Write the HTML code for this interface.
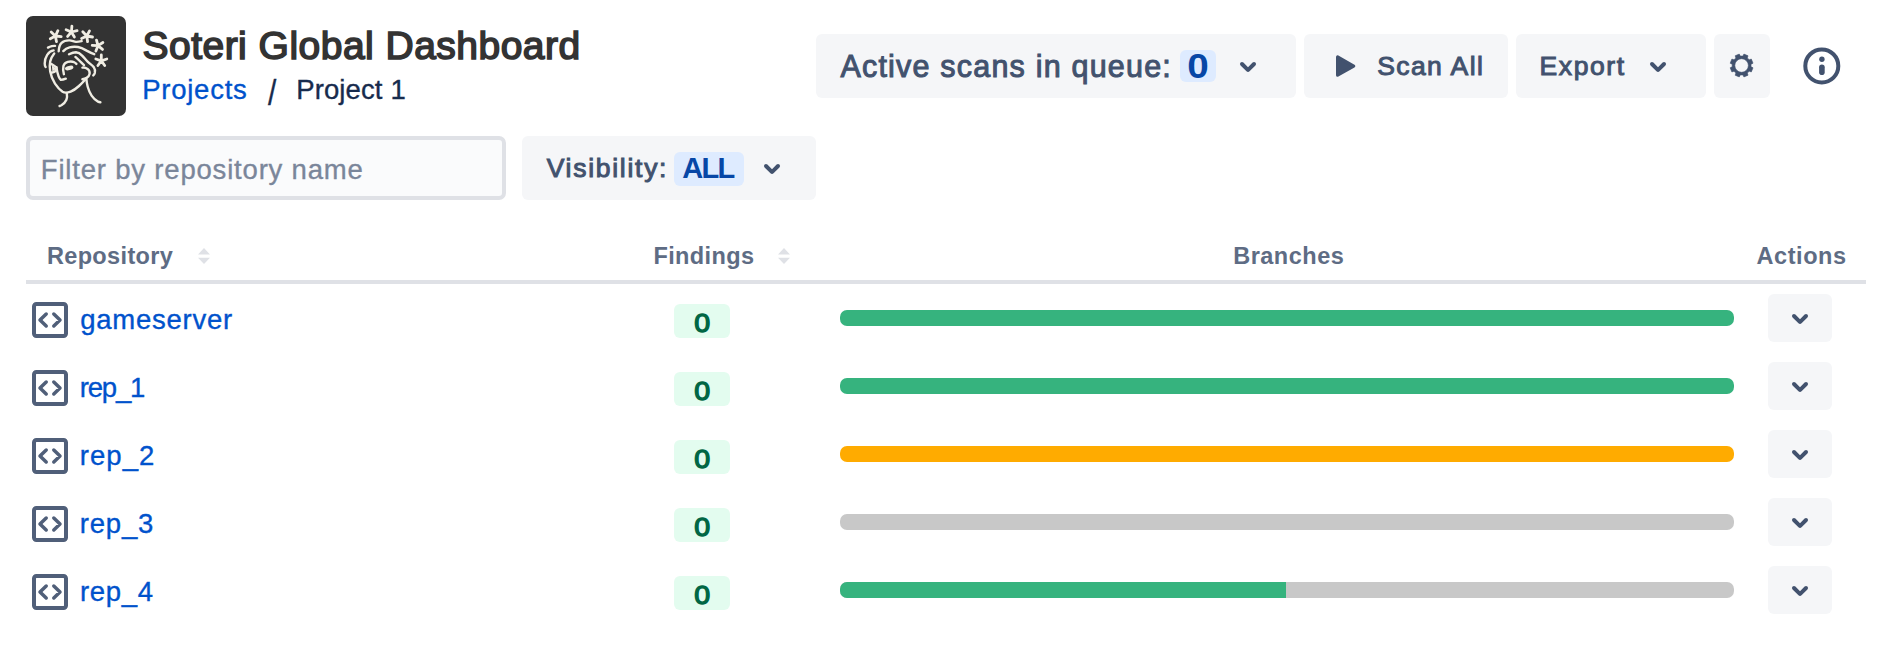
<!DOCTYPE html>
<html lang="en">
<head>
<meta charset="utf-8">
<title>Soteri Global Dashboard</title>
<style>
  html, body { margin: 0; padding: 0; background: #ffffff; }
  body { width: 1900px; height: 662px; position: relative; overflow: hidden;
         font-family: "Liberation Sans", sans-serif; color: #172B4D; }
  .t { position: absolute; white-space: nowrap; line-height: 1; margin: 0; padding: 0; }
  .abs { position: absolute; }
  .btn { position: absolute; background: #F5F6F8; border-radius: 6px; }
  .reg { -webkit-text-stroke: 0.35px currentColor; }
  .med { -webkit-text-stroke: 1px currentColor; }
  .hdr { font-size: 24px; font-weight: bold; color: #5E6C84; }
  .repo { font-size: 28px; color: #0052CC; }
  .lozenge { position: absolute; background: #E3FCEF; border-radius: 6px; width: 56px; height: 34px; left: 674px; }
  .loz-t { font-size: 24px; font-weight: normal; -webkit-text-stroke: 1.3px #006644; color: #006644; }
  .bar { position: absolute; left: 840px; width: 894px; height: 16px; border-radius: 7px; overflow: hidden; background: #C8C8C8; }
  .bar i { display: block; height: 100%; }
  .g { background: #36B37E; }
  .y { background: #FFAB00; }
  .act { position: absolute; left: 1768px; width: 64px; height: 48px; background: #F5F6F8; border-radius: 6px; }
  svg { position: absolute; overflow: visible; }
</style>
</head>
<body>

<!-- logo -->
<div class="abs" id="logo" style="left:26px; top:16px; width:100px; height:100px; background:#333333; border-radius:7px;"></div>

<!-- title + breadcrumbs -->
<h1 class="t" id="title" style="left:142.5px; top:26.3px; font-size:39px; letter-spacing:0.48px; font-weight:normal; -webkit-text-stroke:1.6px #333333; color:#333333;">Soteri Global Dashboard</h1>
<a class="t reg" id="bc1" style="left:142.20px; top:76.0px; font-size:27.5px; letter-spacing:0.75px; color:#0052CC;">Projects</a>
<span class="t reg" id="bc2" style="left:267.8px; top:76px; font-size:35.5px; transform:scaleX(0.84); transform-origin:0 50%; color:#172B4D;">/</span>
<span class="t reg" id="bc3" style="left:296.20px; top:76.0px; font-size:27.5px; letter-spacing:0.12px; color:#172B4D;">Project 1</span>

<!-- header buttons -->
<div class="btn" id="b-scans" style="left:816px; top:34px; width:480px; height:64px;"></div>
<span class="t med" id="t-scans" style="left:840.4px; top:51.4px; font-size:30.5px; letter-spacing:1.2px; color:#42526E;">Active scans in queue:</span>
<div class="abs" id="bd-scans" style="left:1180px; top:50px; width:36px; height:32px; background:#DEEBFF; border-radius:6px;"></div>
<span class="t" id="t-scans0" style="left:1188.0px; top:49.3px; font-size:35.8px; transform:scaleX(1.08); font-weight:bold; color:#0747A6;">0</span>

<div class="btn" id="b-scan" style="left:1304px; top:34px; width:204px; height:64px;"></div>
<span class="t med" id="t-scan" style="left:1377.2px; top:53.1px; font-size:26.5px; letter-spacing:1.42px; color:#42526E;">Scan All</span>

<div class="btn" id="b-export" style="left:1516px; top:34px; width:190px; height:64px;"></div>
<span class="t med" id="t-export" style="left:1539.5px; top:53.1px; font-size:26.5px; letter-spacing:1.6px; color:#42526E;">Export</span>

<div class="btn" id="b-gear" style="left:1714px; top:34px; width:56px; height:64px;"></div>

<!-- filter row -->
<div class="abs" id="filter" style="left:26px; top:136px; width:472px; height:56px; border:4px solid #DFE1E6; border-radius:7px; background:#FAFBFC;"></div>
<span class="t reg" id="t-filter" style="left:40.8px; top:156.2px; font-size:27.5px; letter-spacing:0.81px; color:#7A869A;">Filter by repository name</span>

<div class="btn" id="b-vis" style="left:522px; top:136px; width:294px; height:64px;"></div>
<span class="t med" id="t-vis" style="left:546.7px; top:155.0px; font-size:26.5px; letter-spacing:1.72px; color:#42526E;">Visibility:</span>
<div class="abs" id="bd-vis" style="left:674px; top:152px; width:70px; height:34px; background:#DEEBFF; border-radius:6px;"></div>
<span class="t" id="t-all" style="left:682.2px; top:154.0px; font-size:29px; letter-spacing:-1.65px; font-weight:bold; color:#0747A6;">ALL</span>

<!-- table header -->
<span class="t hdr" id="h-repo" style="left:46.9px; top:244.6px; font-size:23.5px; letter-spacing:0.36px;">Repository</span>
<span class="t hdr" id="h-find" style="left:653.4px; top:244.6px; font-size:23.5px; letter-spacing:0.41px;">Findings</span>
<span class="t hdr" id="h-br" style="left:1233.2px; top:244.6px; font-size:23.5px; letter-spacing:0.5px;">Branches</span>
<span class="t hdr" id="h-act" style="left:1756.6px; top:244.6px; font-size:23.5px; letter-spacing:0.55px;">Actions</span>
<div class="abs" id="hline" style="left:26px; top:280px; width:1840px; height:4px; background:#DFE1E6;"></div>

<!-- rows -->
<a class="t repo reg" id="r1" style="left:80.3px; top:306.2px; font-size:27.5px; letter-spacing:0.73px;">gameserver</a>
<a class="t repo reg" id="r2" style="left:79.80px; top:374.2px; font-size:27.5px; letter-spacing:-1.22px;">rep_1</a>
<a class="t repo reg" id="r3" style="left:79.80px; top:442.2px; font-size:27.5px; letter-spacing:1.03px;">rep_2</a>
<a class="t repo reg" id="r4" style="left:79.80px; top:510.2px; font-size:27.5px; letter-spacing:0.80px;">rep_3</a>
<a class="t repo reg" id="r5" style="left:80.00px; top:578.2px; font-size:27.5px; letter-spacing:0.70px;">rep_4</a>

<div class="lozenge" style="top:304px;"></div>
<div class="lozenge" style="top:372px;"></div>
<div class="lozenge" style="top:440px;"></div>
<div class="lozenge" style="top:508px;"></div>
<div class="lozenge" style="top:576px;"></div>
<span class="t loz-t" id="z1" style="left:694.9px; top:310.0px; font-size:26px; transform:scaleX(1.1);">0</span>
<span class="t loz-t" id="z2" style="left:694.9px; top:378.0px; font-size:26px; transform:scaleX(1.1);">0</span>
<span class="t loz-t" id="z3" style="left:694.9px; top:446.0px; font-size:26px; transform:scaleX(1.1);">0</span>
<span class="t loz-t" id="z4" style="left:694.9px; top:514.0px; font-size:26px; transform:scaleX(1.1);">0</span>
<span class="t loz-t" id="z5" style="left:694.9px; top:582.0px; font-size:26px; transform:scaleX(1.1);">0</span>

<div class="bar" style="top:310px;"><i class="g" style="width:100%"></i></div>
<div class="bar" style="top:378px;"><i class="g" style="width:100%"></i></div>
<div class="bar" style="top:446px;"><i class="y" style="width:100%"></i></div>
<div class="bar" style="top:514px;"></div>
<div class="bar" style="top:582px;"><i class="g" style="width:446px"></i></div>

<div class="act" style="top:294px;"></div>
<div class="act" style="top:362px;"></div>
<div class="act" style="top:430px;"></div>
<div class="act" style="top:498px;"></div>
<div class="act" style="top:566px;"></div>

<!-- chevrons -->
<svg style="left:1224px; top:42px;" width="48" height="48" viewBox="0 0 24 24"><path fill="#42526E" d="M8.292 10.293a1.009 1.009 0 000 1.419l2.939 2.965c.218.215.5.322.779.322s.556-.107.769-.322l2.93-2.955a1.01 1.01 0 000-1.419.987.987 0 00-1.406 0l-2.298 2.317-2.307-2.327a.99.99 0 00-1.406 0z"/></svg>
<svg style="left:1634px; top:42px;" width="48" height="48" viewBox="0 0 24 24"><path fill="#42526E" d="M8.292 10.293a1.009 1.009 0 000 1.419l2.939 2.965c.218.215.5.322.779.322s.556-.107.769-.322l2.93-2.955a1.01 1.01 0 000-1.419.987.987 0 00-1.406 0l-2.298 2.317-2.307-2.327a.99.99 0 00-1.406 0z"/></svg>
<svg style="left:748px; top:144px;" width="48" height="48" viewBox="0 0 24 24"><path fill="#42526E" d="M8.292 10.293a1.009 1.009 0 000 1.419l2.939 2.965c.218.215.5.322.779.322s.556-.107.769-.322l2.93-2.955a1.01 1.01 0 000-1.419.987.987 0 00-1.406 0l-2.298 2.317-2.307-2.327a.99.99 0 00-1.406 0z"/></svg>
<svg style="left:1776px; top:294px;" width="48" height="48" viewBox="0 0 24 24"><path fill="#42526E" d="M8.292 10.293a1.009 1.009 0 000 1.419l2.939 2.965c.218.215.5.322.779.322s.556-.107.769-.322l2.93-2.955a1.01 1.01 0 000-1.419.987.987 0 00-1.406 0l-2.298 2.317-2.307-2.327a.99.99 0 00-1.406 0z"/></svg>
<svg style="left:1776px; top:362px;" width="48" height="48" viewBox="0 0 24 24"><path fill="#42526E" d="M8.292 10.293a1.009 1.009 0 000 1.419l2.939 2.965c.218.215.5.322.779.322s.556-.107.769-.322l2.93-2.955a1.01 1.01 0 000-1.419.987.987 0 00-1.406 0l-2.298 2.317-2.307-2.327a.99.99 0 00-1.406 0z"/></svg>
<svg style="left:1776px; top:430px;" width="48" height="48" viewBox="0 0 24 24"><path fill="#42526E" d="M8.292 10.293a1.009 1.009 0 000 1.419l2.939 2.965c.218.215.5.322.779.322s.556-.107.769-.322l2.93-2.955a1.01 1.01 0 000-1.419.987.987 0 00-1.406 0l-2.298 2.317-2.307-2.327a.99.99 0 00-1.406 0z"/></svg>
<svg style="left:1776px; top:498px;" width="48" height="48" viewBox="0 0 24 24"><path fill="#42526E" d="M8.292 10.293a1.009 1.009 0 000 1.419l2.939 2.965c.218.215.5.322.779.322s.556-.107.769-.322l2.93-2.955a1.01 1.01 0 000-1.419.987.987 0 00-1.406 0l-2.298 2.317-2.307-2.327a.99.99 0 00-1.406 0z"/></svg>
<svg style="left:1776px; top:566px;" width="48" height="48" viewBox="0 0 24 24"><path fill="#42526E" d="M8.292 10.293a1.009 1.009 0 000 1.419l2.939 2.965c.218.215.5.322.779.322s.556-.107.769-.322l2.93-2.955a1.01 1.01 0 000-1.419.987.987 0 00-1.406 0l-2.298 2.317-2.307-2.327a.99.99 0 00-1.406 0z"/></svg>
<!-- play -->
<svg style="left:1328px; top:42px;" width="48" height="48" viewBox="0 0 48 48"><path d="M9.6 15 L9.6 33.2 L25.7 24.1 Z" fill="#42526E" stroke="#42526E" stroke-width="3.2" stroke-linejoin="round"/></svg>
<!-- gear -->
<svg style="left:1717px; top:41px;" width="48" height="48" viewBox="-24.6 -24.5 48 48"><path d="M1.32 -9.41 L2.32 -11.42 L6.43 -9.71 L5.72 -7.59 L7.59 -5.72 L9.71 -6.43 L11.42 -2.32 L9.41 -1.32 L9.41 1.32 L11.42 2.32 L9.71 6.43 L7.59 5.72 L5.72 7.59 L6.43 9.71 L2.32 11.42 L1.32 9.41 L-1.32 9.41 L-2.32 11.42 L-6.43 9.71 L-5.72 7.59 L-7.59 5.72 L-9.71 6.43 L-11.42 2.32 L-9.41 1.32 L-9.41 -1.32 L-11.42 -2.32 L-9.71 -6.43 L-7.59 -5.72 L-5.72 -7.59 L-6.43 -9.71 L-2.32 -11.42 L-1.32 -9.41 Z M6.8 0 A6.8 6.8 0 1 0 -6.8 0 A6.8 6.8 0 1 0 6.8 0 Z" fill="#42526E" fill-rule="evenodd" stroke="#42526E" stroke-width="0.6" stroke-linejoin="round"/></svg>
<!-- info -->
<svg style="left:1797px; top:41px;" width="48" height="48" viewBox="-24.8 -24.9 48 48"><circle r="16.5" fill="none" stroke="#42526E" stroke-width="4"/><circle cx="0.1" cy="-6.6" r="2.7" fill="#42526E"/><rect x="-2.7" y="-1.4" width="5.6" height="10.6" rx="2.8" fill="#42526E"/></svg>
<!-- sort -->
<svg style="left:198px; top:248px;" width="12" height="16" viewBox="0 0 12 16"><path fill="#DFE1E6" d="M6 0 L12 6.5 L0 6.5 Z M0 9.8 L12 9.8 L6 16 Z"/></svg>
<svg style="left:778.3px; top:248px;" width="12" height="16" viewBox="0 0 12 16"><path fill="#DFE1E6" d="M6 0 L12 6.5 L0 6.5 Z M0 9.8 L12 9.8 L6 16 Z"/></svg>
<!-- repo icons -->
<svg style="left:32px; top:302px;" width="36" height="36" viewBox="0 0 36 36"><rect x="2" y="2" width="32" height="32" rx="2.4" fill="none" stroke="#505F79" stroke-width="4"/><path d="M14.2 12 L8 18 L14.2 24 M21.8 12 L28 18 L21.8 24" fill="none" stroke="#505F79" stroke-width="3.5" stroke-linecap="round" stroke-linejoin="round"/></svg>
<svg style="left:32px; top:370px;" width="36" height="36" viewBox="0 0 36 36"><rect x="2" y="2" width="32" height="32" rx="2.4" fill="none" stroke="#505F79" stroke-width="4"/><path d="M14.2 12 L8 18 L14.2 24 M21.8 12 L28 18 L21.8 24" fill="none" stroke="#505F79" stroke-width="3.5" stroke-linecap="round" stroke-linejoin="round"/></svg>
<svg style="left:32px; top:438px;" width="36" height="36" viewBox="0 0 36 36"><rect x="2" y="2" width="32" height="32" rx="2.4" fill="none" stroke="#505F79" stroke-width="4"/><path d="M14.2 12 L8 18 L14.2 24 M21.8 12 L28 18 L21.8 24" fill="none" stroke="#505F79" stroke-width="3.5" stroke-linecap="round" stroke-linejoin="round"/></svg>
<svg style="left:32px; top:506px;" width="36" height="36" viewBox="0 0 36 36"><rect x="2" y="2" width="32" height="32" rx="2.4" fill="none" stroke="#505F79" stroke-width="4"/><path d="M14.2 12 L8 18 L14.2 24 M21.8 12 L28 18 L21.8 24" fill="none" stroke="#505F79" stroke-width="3.5" stroke-linecap="round" stroke-linejoin="round"/></svg>
<svg style="left:32px; top:574px;" width="36" height="36" viewBox="0 0 36 36"><rect x="2" y="2" width="32" height="32" rx="2.4" fill="none" stroke="#505F79" stroke-width="4"/><path d="M14.2 12 L8 18 L14.2 24 M21.8 12 L28 18 L21.8 24" fill="none" stroke="#505F79" stroke-width="3.5" stroke-linecap="round" stroke-linejoin="round"/></svg>
<!-- logo art -->
<svg style="left:26px; top:16px;" width="100" height="100" viewBox="0 0 100 100">
<g fill="none" stroke="#F0EDE3" stroke-width="2.4" stroke-linecap="round" stroke-linejoin="round">
<path d="M29.4 20.0 L31.9 14.7 M29.4 20.0 L35.2 20.7 M29.4 20.0 L30.5 25.7 M29.4 20.0 L24.3 22.8 M29.4 20.0 L25.2 16.0 M45.4 16.0 L45.9 10.2 M45.4 16.0 L51.1 14.7 M45.4 16.0 L48.4 21.0 M45.4 16.0 L41.6 20.4 M45.4 16.0 L40.1 13.7 M60.8 20.0 L63.5 14.9 M60.8 20.0 L66.5 21.0 M60.8 20.0 L61.6 25.7 M60.8 20.0 L55.6 22.5 M60.8 20.0 L56.8 15.8 M72.0 29.7 L70.5 24.1 M72.0 29.7 L76.9 26.5 M72.0 29.7 L76.5 33.4 M72.0 29.7 L69.9 35.1 M72.0 29.7 L66.2 29.4 M75.3 44.8 L75.3 39.0 M75.3 44.8 L80.8 43.0 M75.3 44.8 L78.7 49.5 M75.3 44.8 L71.9 49.5 M75.3 44.8 L69.8 43.0" stroke-width="2.8"/>
<path d="M32.7 35.2 C32.9 31.5 33.6 28.8 35.6 26.9 C37.6 25 40.5 24.3 43.5 24.4 C46 24.5 47.8 25.7 50 25.9 C52 26 54 25.5 55.7 25.1"/>
<path d="M37.3 35.1 C39 33.2 41 31.9 43.5 31.3 C46 30.7 49 30.5 52 31 C55 31.5 57.8 33 60.6 34.6 C63.2 36 65.6 37.2 68.2 38.2"/>
<path d="M43 38.3 C45.2 37.2 47.5 36.2 50 36.2 C52.6 36.3 54.6 37.9 56.4 39.8 C58.2 41.7 59.8 43.9 61.6 45.6 C63.8 47.7 66.4 49.2 67.8 51.2 C69 53 69.3 55 68.8 57 C68.5 58 68 58.8 67.3 59.4"/>
<path d="M49.4 40.9 C51 42.2 52.4 43.6 53.8 45 C55.3 46.5 56.6 47.9 58 49.1"/>
<path d="M22 31.6 C23.2 30.9 24.5 30.4 25.8 30.1 C26.9 29.9 28 29.8 29.1 29.9"/>
<path d="M27.6 34.4 C25 34.8 22.8 36.4 21.2 38.8 C19.5 41.4 18.7 44.5 18.7 47.4 C18.7 48.8 19 50 19.6 51"/>
<path d="M28.2 37.4 C26.4 39.6 25 42.3 24.2 45.4 C23.5 48.5 23.5 52 24.2 55.6 C25 59.8 26.6 64 29 67.6 C31 70.6 33.5 73.6 36.6 75.8 C38.5 77 41.5 76.8 44.6 75.6 C47.6 74.4 50.4 72.4 53 70 C55.6 67.6 57.9 65.2 60 62.8"/>
<path d="M25.4 48 C27 49 28.8 50.2 30.4 51.4 C30.6 53 29.8 54.8 28.6 55.8 C27.8 56.3 26.8 56.5 26 56.4" />
<path d="M30.4 51.2 C30.8 54 31.5 57.4 32.6 60.4 C33.2 62 33.9 63.2 34.9 63.9 C36.4 63.8 38.2 63.3 39.8 62.7"/>
<path d="M37.9 58.2 C37.2 55.4 36.8 52.6 37.4 50 C38 47.8 39.6 46.4 41.8 45.8 C44 45.3 46.4 45.3 48.2 46.2 C49 46.6 49.8 47.2 50.4 47.9"/>
<path d="M56.4 51.6 C58 51.4 60 51.8 61.6 52.9 C63.2 54.1 63.9 56 63.6 57.9 C63.3 59.6 62.2 61 60.6 61.9 C59.2 62.7 57.8 63.1 56.4 63.3"/>
<path d="M40.8 77.4 C41.2 79.6 41.2 81.8 40.4 83.8 C39.4 86.2 37.6 88 35.4 89.2 C34.8 89.5 34.2 89.8 33.6 90"/>
<path d="M60.4 63.2 C60.6 65.6 61 68.2 61.7 70.8 C62.6 74 63.8 77 65.6 79.6 C67.4 82.2 69.6 84.4 72 85.6 C72.8 86 73.6 86.2 74.4 86.3"/>
</g>
<g fill="#F0EDE3">
<ellipse cx="43.2" cy="52" rx="4.3" ry="2.1" transform="rotate(-14 43.2 52)"/>
<path d="M25.8 49.6 L29.6 52 C29.4 53.6 28.2 54.8 26.4 55.2 Z"/>
</g>
</svg>

</body>
</html>
